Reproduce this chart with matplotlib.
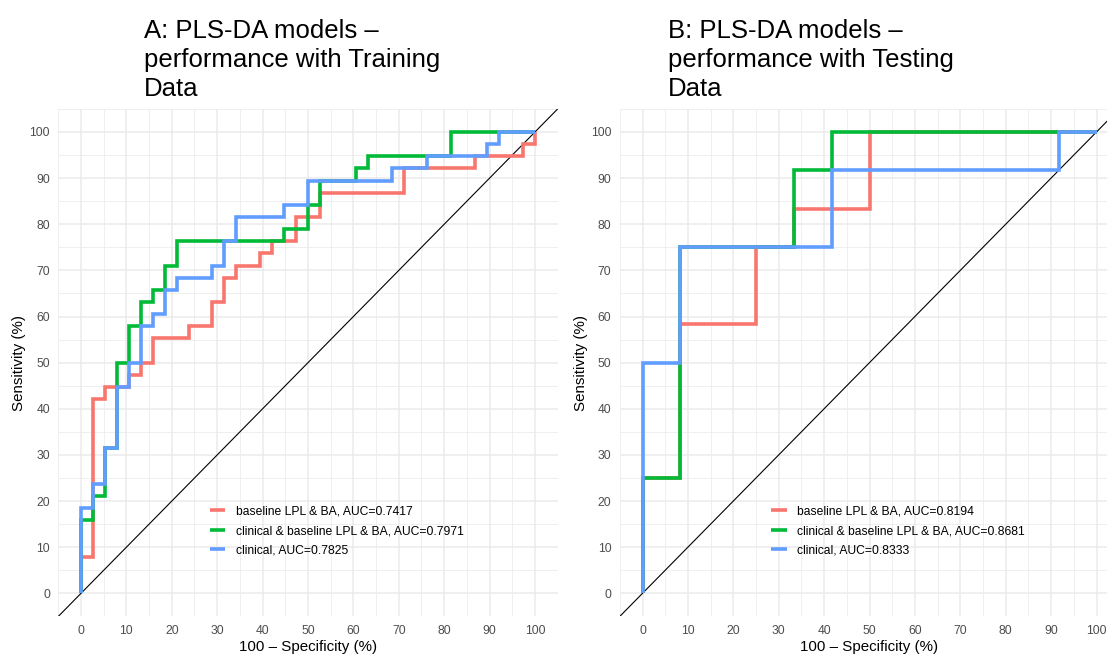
import matplotlib
matplotlib.use("Agg")
import matplotlib.pyplot as plt
from matplotlib.ticker import MultipleLocator

plt.rcParams['font.family'] = ['Liberation Sans', 'DejaVu Sans']

# ---- data -----------------------------------------------------------------
model_names = ["baseline LPL & BA", "clinical & baseline LPL & BA", "clinical"]
model_colors = ["#F8766D", "#00BA38", "#619CFF"]

# Training set ROC staircases (false-positive / true-positive counts)
train_n_neg = 38
train_n_pos = 38
train_auc = [0.7417, 0.7971, 0.7825]
train_fp_base = [0, 0, 1, 2, 4, 5, 6, 9, 11, 12, 13, 15, 16, 18, 20, 27, 33, 37, 38]
train_tp_base = [0, 3, 16, 17, 18, 19, 21, 22, 24, 26, 27, 28, 29, 31, 33, 35, 36, 37, 38]
train_fp_comb = [0, 0, 1, 2, 3, 4, 5, 6, 7, 8, 17, 19, 20, 23, 24, 31, 38]
train_tp_comb = [0, 6, 8, 12, 19, 22, 24, 25, 27, 29, 30, 32, 34, 35, 36, 38, 38]
train_fp_clin = [0, 0, 1, 2, 3, 4, 5, 6, 7, 8, 11, 12, 13, 17, 19, 26, 29, 34, 35, 38]
train_tp_clin = [0, 7, 9, 12, 17, 19, 22, 23, 25, 26, 27, 29, 31, 32, 34, 35, 36, 37, 38, 38]

# Testing set ROC staircases
test_n_neg = 12
test_n_pos = 12
test_auc = [0.8194, 0.8681, 0.8333]
test_fp_base = [0, 0, 1, 3, 4, 6, 12]
test_tp_base = [0, 3, 7, 9, 10, 12, 12]
test_fp_comb = [0, 0, 1, 4, 5, 12]
test_tp_comb = [0, 3, 9, 11, 12, 12]
test_fp_clin = [0, 0, 1, 5, 11, 12]
test_tp_clin = [0, 6, 9, 11, 12, 12]

tick_values = list(range(0, 101, 10))

panels = [
    {
        "title": "A: PLS-DA models \u2013\nperformance with Training\nData",
        "n_neg": train_n_neg, "n_pos": train_n_pos, "auc": train_auc,
        "fp": [train_fp_base, train_fp_comb, train_fp_clin],
        "tp": [train_tp_base, train_tp_comb, train_tp_clin],
    },
    {
        "title": "B: PLS-DA models \u2013\nperformance with Testing\nData",
        "n_neg": test_n_neg, "n_pos": test_n_pos, "auc": test_auc,
        "fp": [test_fp_base, test_fp_comb, test_fp_clin],
        "tp": [test_tp_base, test_tp_comb, test_tp_clin],
    },
]

# ---- figure ----------------------------------------------------------------
W, H = 1107, 654
fig = plt.figure(figsize=(W / 100, H / 100), dpi=100)
fig.patch.set_facecolor("white")

def px_box(left, top, right, bottom):
    return [left / W, 1 - bottom / H, (right - left) / W, (bottom - top) / H]

axes_px = [(58.3, 108.9, 557.7, 616.4), (619.8, 108.9, 1119.2, 616.4)]
title_px = [(143.5, 19.0), (667.5, 19.0)]

for panel, box, tpos in zip(panels, axes_px, title_px):
    ax = fig.add_axes(px_box(*box))
    ax.set_facecolor("white")
    for s in ax.spines.values():
        s.set_visible(False)

    ax.set_xlim(-5, 105)
    ax.set_ylim(-5, 105)
    ax.xaxis.set_major_locator(MultipleLocator(10))
    ax.yaxis.set_major_locator(MultipleLocator(10))
    ax.xaxis.set_minor_locator(MultipleLocator(5))
    ax.yaxis.set_minor_locator(MultipleLocator(5))
    ax.set_xticks(tick_values)
    ax.set_yticks(tick_values)
    ax.grid(which="major", color="#EBEBEB", linewidth=1.1)
    ax.grid(which="minor", color="#EBEBEB", linewidth=0.55)
    ax.set_axisbelow(True)
    ax.tick_params(which="both", length=0)
    ax.tick_params(axis="x", pad=6.4, labelsize=8.7, labelcolor="#4D4D4D")
    ax.tick_params(axis="y", pad=6.0, labelsize=8.7, labelcolor="#4D4D4D")

    # chance line
    ax.axline((0, 0), slope=1, color="black", linewidth=0.8, zorder=2)

    handles = []
    for name, color, auc, fp, tp in zip(model_names, model_colors, panel["auc"],
                                        panel["fp"], panel["tp"]):
        x = [100 * v / panel["n_neg"] for v in fp]
        y = [100 * v / panel["n_pos"] for v in tp]
        (line,) = ax.plot(x, y, drawstyle="steps-post", color=color,
                          linewidth=2.6, solid_joinstyle="miter",
                          solid_capstyle="butt", zorder=3,
                          label=f"{name}, AUC={auc:.4f}")
        handles.append(line)

    ax.legend(handles=handles, loc="center left",
              bbox_to_anchor=(28.4, 13.5), bbox_transform=ax.transData,
              frameon=False, fontsize=8.7, handlelength=1.27,
              handletextpad=0.85, labelspacing=0.62, borderpad=0,
              borderaxespad=0)

    ax.set_xlabel("100 \u2013 Specificity (%)", fontsize=10.9, color="black")
    ax.set_ylabel("Sensitivity (%)", fontsize=10.9, color="black")
    ax.xaxis.set_label_coords(0.5, (box[3] - 639.5) / (box[3] - box[1]))
    ax.yaxis.set_label_coords((26.0 - 58.3) / (box[2] - box[0]), 0.5)

    fig.text(tpos[0] / W, 1 - tpos[1] / H, panel["title"], fontsize=18.5,
             ha="left", va="top", color="black", linespacing=1.25)

fig.savefig("out.png", dpi=100, facecolor="white")
